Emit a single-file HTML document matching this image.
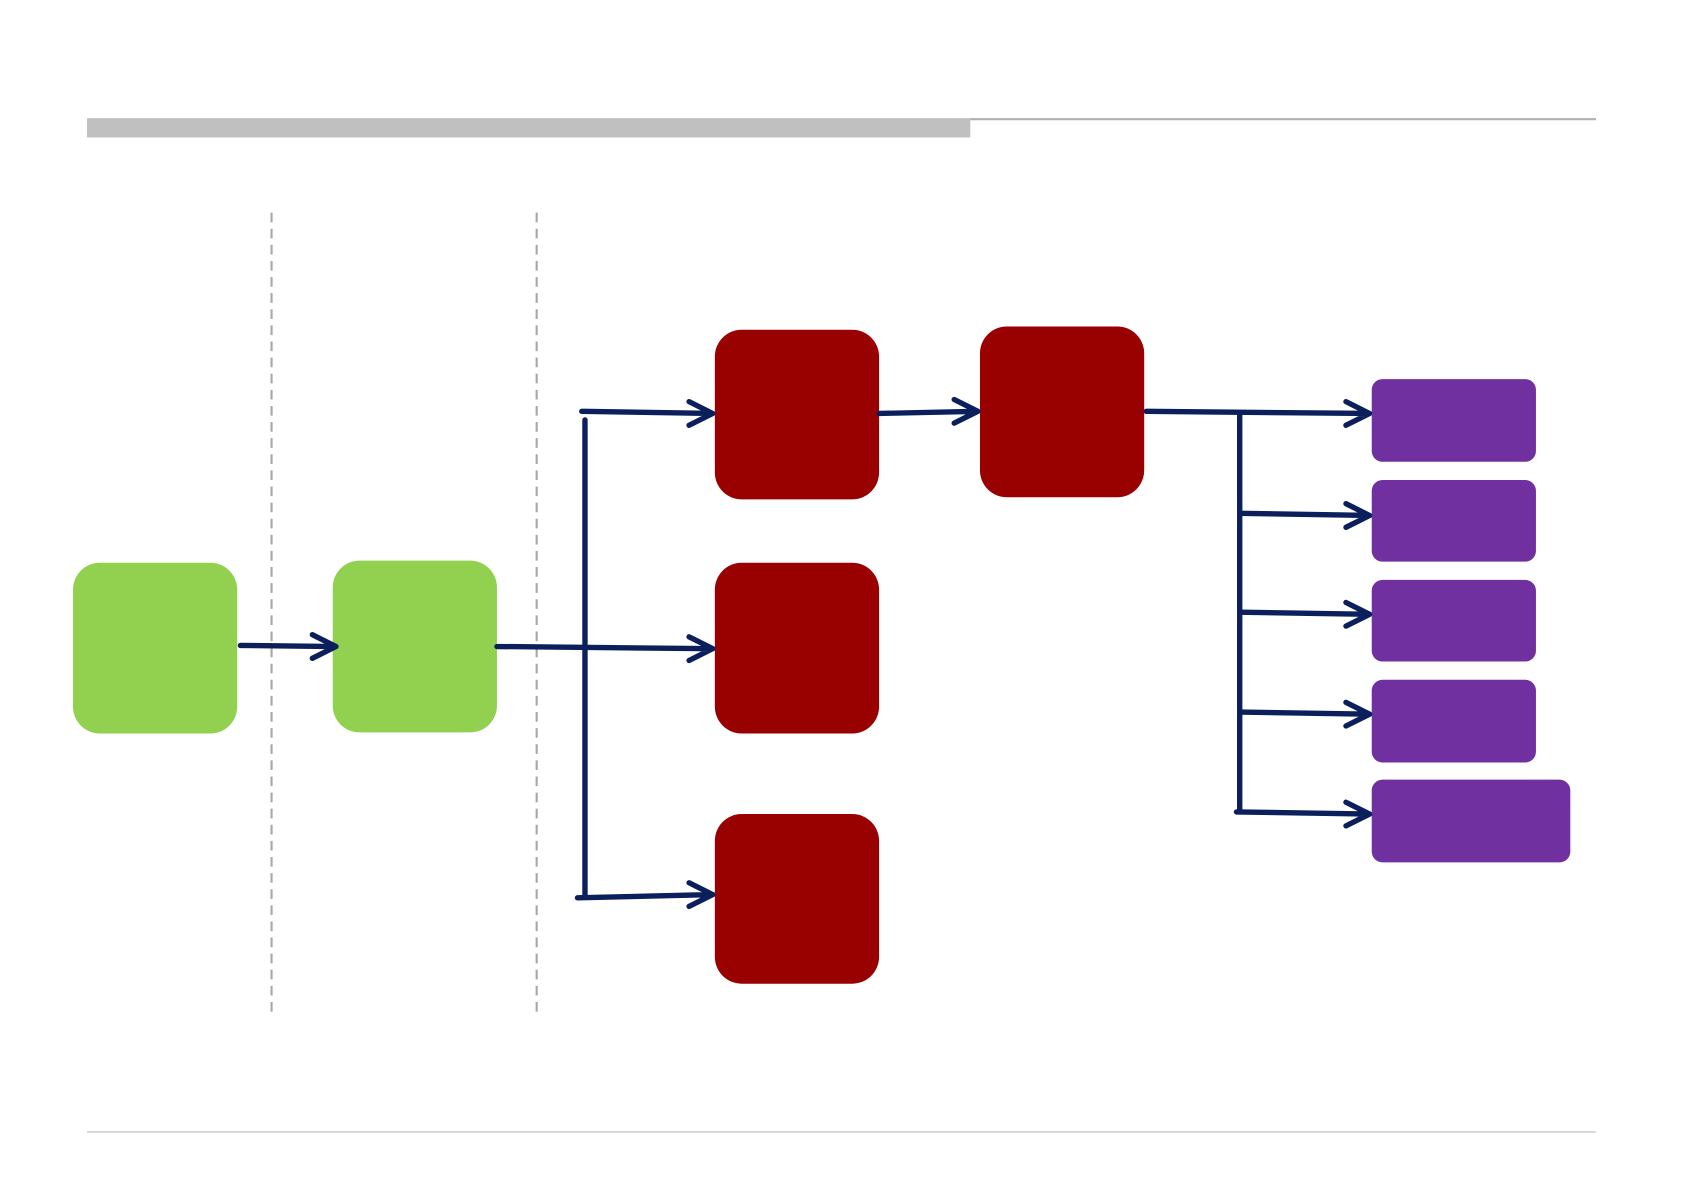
<!DOCTYPE html>
<html><head><meta charset="utf-8"><style>
html,body{margin:0;padding:0;background:#fff;}
svg{display:block;}
</style></head><body>
<svg width="1683" height="1191" viewBox="0 0 1568 1109" preserveAspectRatio="none" xmlns="http://www.w3.org/2000/svg">
<rect x="81" y="110" width="823" height="18" fill="#c0c0c0"/>
<line x1="904" y1="111" x2="1487" y2="111" stroke="#b0b0b0" stroke-width="2"/>
<line x1="81" y1="1054" x2="1487" y2="1054" stroke="#d0d0d0" stroke-width="1.5"/>
<line x1="253" y1="198" x2="253" y2="942" stroke="#a8a8a8" stroke-width="2" stroke-dasharray="9 6"/>
<line x1="500" y1="198" x2="500" y2="942" stroke="#a8a8a8" stroke-width="2" stroke-dasharray="9 6"/>
<g fill="#92d050">
<rect x="68" y="524" width="153" height="159" rx="25"/>
<rect x="310" y="522" width="153" height="160" rx="25"/>
</g>
<g fill="#990000">
<rect x="666" y="307" width="153" height="158" rx="25"/>
<rect x="666" y="524" width="153" height="159" rx="25"/>
<rect x="666" y="758" width="153" height="158" rx="25"/>
<rect x="913" y="304" width="153" height="159" rx="25"/>
</g>
<g fill="#7030a0">
<rect x="1278" y="353" width="153" height="77" rx="10"/>
<rect x="1278" y="447" width="153" height="76" rx="10"/>
<rect x="1278" y="540" width="153" height="76" rx="10"/>
<rect x="1278" y="633" width="153" height="77" rx="10"/>
<rect x="1278" y="726" width="185" height="77" rx="10"/>
</g>
<g stroke="#0a1f5c" stroke-width="5" fill="none" stroke-linecap="round" stroke-linejoin="round">
<path d="M224 601 L313 602 M291 591 L313 602 L291 613"/>
<path d="M463 602 L664 604 M642 593 L664 604 L642 615"/>
<path d="M542 383 L664 385 M642 374 L664 385 L642 396"/>
<path d="M538 836 L664 833 M642 822 L664 833 L642 844"/>
<path d="M545 391 L545 834"/>
<path d="M819 385 L911 383 M889 372 L911 383 L889 394"/>
<path d="M1068 383 L1276 385 M1254 374 L1276 385 L1254 396"/>
<path d="M1155 385 L1155 756"/>
<path d="M1155 478 L1276 480 M1254 469 L1276 480 L1254 491"/>
<path d="M1155 570 L1276 572 M1254 561 L1276 572 L1254 583"/>
<path d="M1155 663 L1276 665 M1254 654 L1276 665 L1254 676"/>
<path d="M1152 756 L1276 758 M1254 747 L1276 758 L1254 769"/>
</g>
</svg>
</body></html>
